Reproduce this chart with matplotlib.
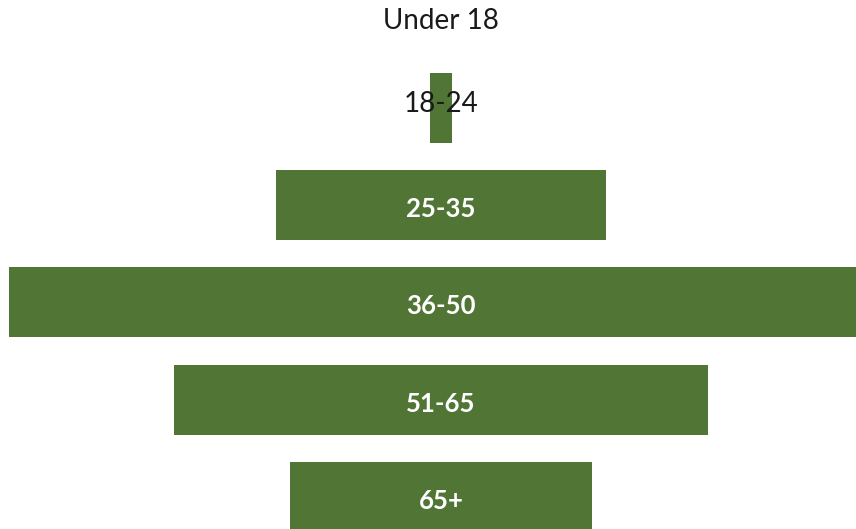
import matplotlib
matplotlib.use('Agg')
import matplotlib.pyplot as plt
import numpy as np

# age groups and (relative) counts
groups = ['Under 18', '18-24', '25-35', '36-50', '51-65', '65+']
values = [0, 2, 30.5, 80, 49.5, 28]
bar_color = '#517534'


def main():
    plt.rcParams['font.family'] = ['Lato', 'DejaVu Sans']
    fig = plt.figure(figsize=(8.56, 5.29), dpi=100)
    ax = fig.add_axes([0, 0, 1, 1])

    y = np.arange(len(groups))
    vals = np.array(values, dtype=float)
    ax.barh(y, vals, left=-vals / 2, height=0.72, color=bar_color)

    for i, (g, v) in enumerate(zip(groups, values)):
        if v < 10:
            # small bars: dark label sitting over the bar
            ax.text(0, i + 0.11 if i == 0 else i - 0.04, g, ha='center', va='center',
                    fontsize=20, color='#1a1a1a')
        else:
            ax.text(0, i + 0.04, g, ha='center', va='center',
                    fontsize=18.5, fontweight='bold', color='white')

    # the widest bar runs off the right edge
    ax.set_xlim(-40.83, 38.43)
    ax.set_ylim(5.33, -0.11)
    ax.axis('off')

    fig.savefig('out.png', dpi=100)


if __name__ == '__main__':
    main()
